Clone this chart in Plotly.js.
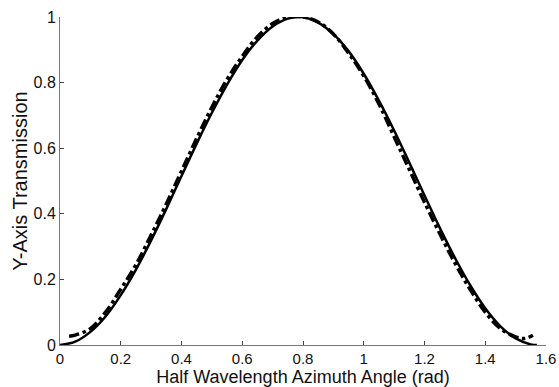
<!DOCTYPE html>
<html>
<head>
<meta charset="utf-8">
<script src="https://cdn.plot.ly/plotly-3.0.1.min.js"></script>
<style>body{margin:0;background:#fff}#chart{width:559px;height:387px}</style>
</head>
<body>
<div id="chart"></div>
<script>
var theoryX = [0, 0.05, 0.1, 0.15, 0.2, 0.25, 0.3, 0.35, 0.4, 0.45, 0.5, 0.55, 0.6, 0.65, 0.7, 0.75, 0.8, 0.85, 0.9, 0.95, 1.0, 1.05, 1.1, 1.15, 1.2, 1.25, 1.3, 1.35, 1.4, 1.45, 1.5, 1.55, 1.57];
var theoryY = [0, 0.010, 0.040, 0.087, 0.152, 0.230, 0.319, 0.415, 0.515, 0.614, 0.708, 0.794, 0.869, 0.928, 0.971, 0.995, 0.999, 0.983, 0.948, 0.896, 0.827, 0.745, 0.654, 0.556, 0.456, 0.358, 0.266, 0.183, 0.112, 0.057, 0.020, 0.002, 0];
var measX = [0.03, 0.05, 0.1, 0.15, 0.2, 0.25, 0.3, 0.35, 0.4, 0.45, 0.5, 0.55, 0.6, 0.65, 0.7, 0.75, 0.8, 0.85, 0.9, 0.95, 1.0, 1.05, 1.1, 1.15, 1.2, 1.25, 1.3, 1.35, 1.4, 1.45, 1.5, 1.53, 1.557];
var measY = [0.027, 0.03, 0.05, 0.10, 0.17, 0.245, 0.335, 0.43, 0.53, 0.63, 0.725, 0.81, 0.88, 0.94, 0.98, 1.0, 1.0, 0.985, 0.948, 0.89, 0.82, 0.735, 0.635, 0.535, 0.435, 0.34, 0.25, 0.17, 0.10, 0.05, 0.025, 0.02, 0.03];
var tickVals = [0, 0.2, 0.4, 0.6, 0.8, 1, 1.2, 1.4, 1.6];
var tickText = ["0", "0.2", "0.4", "0.6", "0.8", "1", "1.2", "1.4", "1.6"];
var yTickVals = [0, 0.2, 0.4, 0.6, 0.8, 1];
var yTickText = ["0", "0.2", "0.4", "0.6", "0.8", "1"];

var traces = [
  {x: theoryX, y: theoryY, mode: 'lines', line: {color: '#000', width: 2.5, shape: 'spline'}, showlegend: false},
  {x: measX, y: measY, mode: 'lines', line: {color: '#000', width: 3.5, dash: 'dashdot', shape: 'spline'}, showlegend: false}
];
var fontFam = 'Liberation Sans, Arial, sans-serif';
var layout = {
  width: 559, height: 387,
  margin: {l: 60, r: 13, t: 17, b: 42},
  paper_bgcolor: '#fff', plot_bgcolor: '#fff',
  font: {family: fontFam, color: '#000', size: 16},
  xaxis: {
    range: [0, 1.6], tickvals: tickVals, ticktext: tickText,
    ticks: 'inside', ticklen: 4, tickcolor: '#444', showgrid: false, zeroline: false,
    showline: true, linecolor: '#777', linewidth: 1, mirror: false, automargin: false,
    tickfont: {size: 15, family: fontFam, color: '#111'},
    title: {text: 'Half Wavelength Azimuth Angle (rad)', font: {size: 18, family: fontFam, color: '#111'}, standoff: 2}
  },
  yaxis: {
    range: [0, 1], tickvals: yTickVals, ticktext: yTickText,
    ticks: 'inside', ticklen: 4, tickcolor: '#444', showgrid: false, zeroline: false,
    showline: true, linecolor: '#777', linewidth: 1, mirror: false, automargin: false,
    tickfont: {size: 16, family: fontFam, color: '#111'},
    title: {text: 'Y-Axis Transmission', font: {size: 20, family: fontFam, color: '#111'}, standoff: 0}
  }
};
Plotly.newPlot('chart', traces, layout, {displayModeBar: false, staticPlot: true});
</script>
</body>
</html>
